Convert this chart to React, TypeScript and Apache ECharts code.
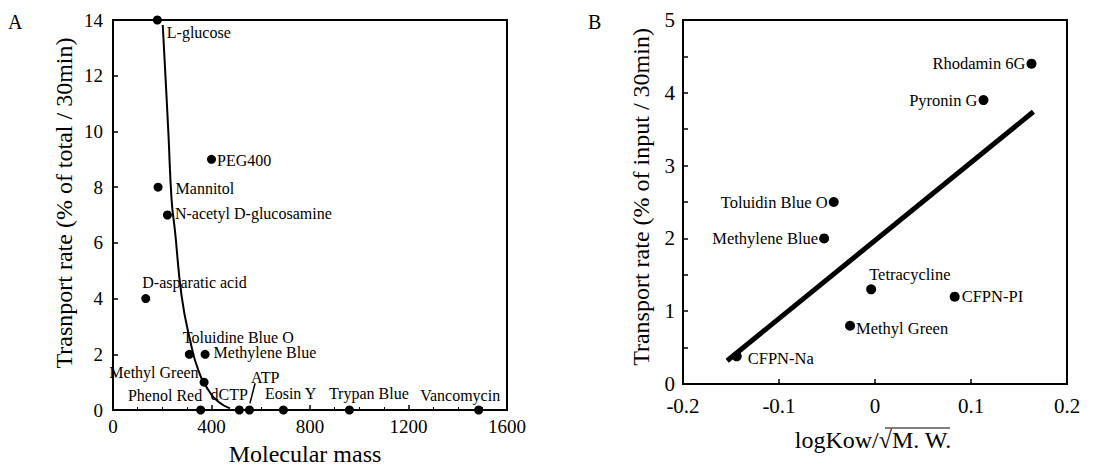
import React, { useEffect, useRef } from "react";
import * as echarts from "echarts";

// Panel A data
const namesA = ["L-glucose", "PEG400", "Mannitol", "N-acetyl D-glucosamine", "D-asparatic acid", "Toluidine Blue O", "Methylene Blue", "Methyl Green", "Phenol Red", "dCTP", "ATP", "Eosin Y", "Trypan Blue", "Vancomycin"];
const massA = [180, 400, 183, 221, 133, 310, 374, 370, 356, 513, 554, 692, 960, 1485];
const rateA = [14, 9, 8, 7, 4, 2, 2, 1, 0, 0, 0, 0, 0, 0];
const fitMassA = [202, 211, 225, 238, 252, 279, 313, 346, 387, 428, 475];
const fitRateA = [13.82, 12.32, 9.93, 7.54, 6.4, 4.07, 2.51, 1.44, 0.72, 0.3, 0.06];
const atpLeaderMass = [556, 577];
const atpLeaderRate = [0.24, 0.96];
const xTicksA = [0, 400, 800, 1200, 1600];
const yTicksA = [0, 2, 4, 6, 8, 10, 12, 14];

// Panel B data
const namesB = ["Rhodamin 6G", "Pyronin G", "Toluidin Blue O", "Methylene Blue", "Tetracycline", "CFPN-PI", "Methyl Green", "CFPN-Na"];
const kowB = [0.163, 0.113, -0.043, -0.053, -0.004, 0.083, -0.026, -0.144];
const rateB = [4.4, 3.9, 2.5, 2.0, 1.3, 1.2, 0.8, 0.38];
const fitKowB = [-0.154, 0.165];
const fitRateB = [0.32, 3.74];
const xTicksB = [-0.2, -0.1, 0, 0.1, 0.2];
const yTicksB = [0, 1, 2, 3, 4, 5];

// label placement (styling)
const labelA: Record<string, [string, number, number]> = {
  "L-glucose": ["right", 5, 12],
  PEG400: ["right", 1, 1],
  Mannitol: ["right", 13, 1],
  "N-acetyl D-glucosamine": ["right", 3, -2],
  "D-asparatic acid": ["right", -8, -16],
  "Toluidine Blue O": ["right", -11, -17],
  "Methylene Blue": ["right", 4, -2],
  "Methyl Green": ["left", -1, -10],
  "Phenol Red": ["left", 6, -15],
  dCTP: ["left", 13, -16],
  ATP: ["right", -3, -33],
  "Eosin Y": ["right", -23, -17],
  "Trypan Blue": ["right", -25, -17],
  Vancomycin: ["right", -63, -15],
};
const labelB: Record<string, [string, number, number]> = {
  "Rhodamin 6G": ["left", -1, 0],
  "Pyronin G": ["left", -1, 0],
  "Toluidin Blue O": ["left", -1, 0],
  "Methylene Blue": ["left", -1, 0],
  Tetracycline: ["right", -7, -15],
  "CFPN-PI": ["right", 2, 0],
  "Methyl Green": ["right", 1, 3],
  "CFPN-Na": ["right", 6, 2],
};

const FONT = "Liberation Serif";
const INK = "#000";

export default function App() {
  const ref = useRef<HTMLDivElement>(null);
  useEffect(() => {
    document.body.style.margin = "0";
    const chart = echarts.init(ref.current!, null, { renderer: "svg" });

    const ptsA = namesA.map((n, i) => {
      const l = labelA[n];
      return {
        name: n,
        value: [massA[i], rateA[i]],
        label: { position: l[0], offset: [l[1], l[2]] },
      };
    });
    const ptsB = namesB.map((n, i) => {
      const l = labelB[n];
      return {
        name: n,
        value: [kowB[i], rateB[i]],
        label: { position: l[0], offset: [l[1], l[2]] },
      };
    });

    const axisCommon = {
      axisLine: { show: true, onZero: false, lineStyle: { color: INK, width: 2 } },
      splitLine: { show: false },
      axisTick: { show: true, inside: true, length: 5, lineStyle: { color: INK, width: 1.5 } },
    };

    chart.setOption({
      animation: false,
      backgroundColor: "#fff",
      textStyle: { fontFamily: FONT, color: INK },
      grid: [
        { left: 113, top: 20, width: 394, height: 390, show: true, borderColor: INK, borderWidth: 2 },
        { left: 683, top: 20, width: 384, height: 364, show: true, borderColor: INK, borderWidth: 2 },
      ],
      xAxis: [
        {
          ...axisCommon,
          gridIndex: 0,
          type: "value",
          min: xTicksA[0],
          max: xTicksA[xTicksA.length - 1],
          interval: 400,
          minorTick: { show: true, splitNumber: 4, length: 3, lineStyle: { color: INK } },
          axisLabel: { fontFamily: FONT, fontSize: 19, color: INK, margin: 7, formatter: (v: number) => String(v) },
        },
        {
          ...axisCommon,
          gridIndex: 1,
          type: "value",
          min: xTicksB[0],
          max: xTicksB[xTicksB.length - 1],
          interval: 0.1,
          axisLabel: {
            fontFamily: FONT,
            fontSize: 21,
            color: INK,
            margin: 11,
            formatter: (v: number) => (Math.abs(v) < 1e-9 ? "0" : String(Math.round(v * 10) / 10)),
          },
        },
      ],
      yAxis: [
        {
          ...axisCommon,
          gridIndex: 0,
          type: "value",
          min: yTicksA[0],
          max: yTicksA[yTicksA.length - 1],
          interval: 2,
          axisLabel: { fontFamily: FONT, fontSize: 19, color: INK, margin: 10 },
        },
        {
          ...axisCommon,
          gridIndex: 1,
          type: "value",
          min: yTicksB[0],
          max: yTicksB[yTicksB.length - 1],
          interval: 1,
          minorTick: { show: true, splitNumber: 2, length: 5, lineStyle: { color: INK, width: 1.5 } },
          axisLabel: { fontFamily: FONT, fontSize: 21, color: INK, margin: 8 },
        },
      ],
      series: [
        {
          type: "line",
          xAxisIndex: 0,
          yAxisIndex: 0,
          data: fitMassA.map((m, i) => [m, fitRateA[i]]),
          smooth: true,
          showSymbol: false,
          lineStyle: { color: INK, width: 2 },
          z: 2,
        },
        {
          type: "line",
          xAxisIndex: 0,
          yAxisIndex: 0,
          data: atpLeaderMass.map((m, i) => [m, atpLeaderRate[i]]),
          showSymbol: false,
          lineStyle: { color: INK, width: 1.5 },
          z: 2,
        },
        {
          type: "scatter",
          xAxisIndex: 0,
          yAxisIndex: 0,
          symbolSize: 9,
          itemStyle: { color: INK, opacity: 1 },
          data: ptsA,
          label: {
            show: true,
            formatter: "{b}",
            distance: 0,
            fontFamily: FONT,
            fontSize: 16,
            color: INK,
          },
          z: 3,
        },
        {
          type: "line",
          xAxisIndex: 1,
          yAxisIndex: 1,
          data: fitKowB.map((k, i) => [k, fitRateB[i]]),
          showSymbol: false,
          lineStyle: { color: INK, width: 5 },
          z: 2,
        },
        {
          type: "scatter",
          xAxisIndex: 1,
          yAxisIndex: 1,
          symbolSize: 10,
          itemStyle: { color: INK, opacity: 1 },
          data: ptsB,
          label: {
            show: true,
            formatter: "{b}",
            distance: 0,
            fontFamily: FONT,
            fontSize: 16.5,
            color: INK,
          },
          z: 3,
        },
      ],
      graphic: [
        { type: "text", left: 8, top: 12, style: { text: "A", font: `20px "${FONT}"`, fill: INK } },
        { type: "text", left: 588, top: 12, style: { text: "B", font: `20px "${FONT}"`, fill: INK } },
        {
          type: "text",
          x: 64,
          y: 203,
          rotation: Math.PI / 2,
          style: {
            text: "Trasnport rate (% of total / 30min)",
            font: `24px "${FONT}"`,
            fill: INK,
            align: "center",
            verticalAlign: "middle",
          },
        },
        {
          type: "text",
          x: 305,
          y: 454,
          style: { text: "Molecular mass", font: `24px "${FONT}"`, fill: INK, align: "center", verticalAlign: "middle" },
        },
        {
          type: "text",
          x: 641,
          y: 197,
          rotation: Math.PI / 2,
          style: {
            text: "Transport rate (% of input / 30min)",
            font: `24px "${FONT}"`,
            fill: INK,
            align: "center",
            verticalAlign: "middle",
          },
        },
        {
          type: "text",
          x: 873,
          y: 440,
          style: { text: "logKow/\u221AM. W.", font: `24px "${FONT}"`, fill: INK, align: "center", verticalAlign: "middle" },
        },
        {
          type: "line",
          shape: { x1: 885, y1: 428, x2: 950, y2: 428 },
          style: { stroke: INK, lineWidth: 1.2 },
        },
      ],
    });
    return () => chart.dispose();
  }, []);
  return <div ref={ref} style={{ width: 1108, height: 468 }} />;
}
